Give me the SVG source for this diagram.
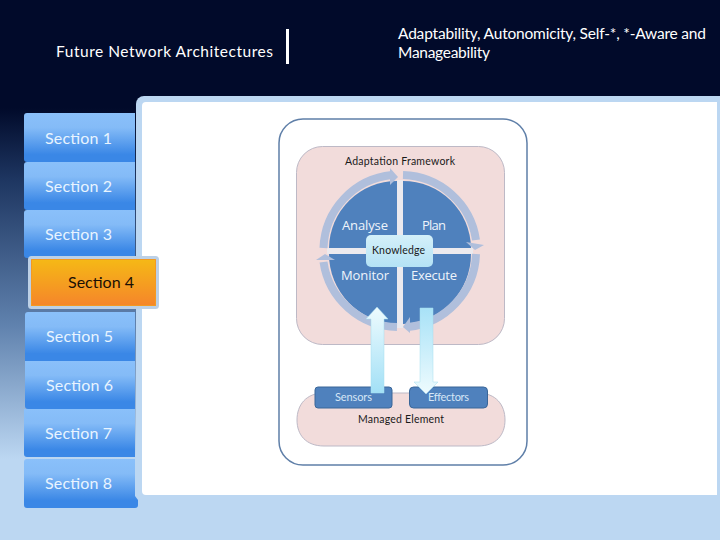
<svg xmlns="http://www.w3.org/2000/svg" width="720" height="540" viewBox="0 0 720 540">
<defs>
<linearGradient id="bg" x1="0" y1="0" x2="0" y2="1"><stop offset="0" stop-color="#010a2a"/><stop offset="0.2" stop-color="#010a2a"/><stop offset="0.33" stop-color="#1d3560"/><stop offset="0.6" stop-color="#5f81ad"/><stop offset="0.85" stop-color="#bcd7f2"/><stop offset="1" stop-color="#bcd7f2"/></linearGradient>
<linearGradient id="tab" x1="0" y1="0" x2="0" y2="1"><stop offset="0" stop-color="#8ac0fa"/><stop offset="0.3" stop-color="#84bbf7"/><stop offset="0.85" stop-color="#3a87e6"/><stop offset="1" stop-color="#3a87e6"/></linearGradient>
<linearGradient id="org" x1="0" y1="0" x2="0" y2="1"><stop offset="0" stop-color="#f5b816"/><stop offset="1" stop-color="#f5862a"/></linearGradient>
<linearGradient id="upA" x1="0" y1="0" x2="0" y2="1"><stop offset="0" stop-color="#eefbfe"/><stop offset="1" stop-color="#a2e0f6"/></linearGradient>
<linearGradient id="dnA" x1="0" y1="0" x2="0" y2="1"><stop offset="0" stop-color="#a8e2f7"/><stop offset="1" stop-color="#eefbfe"/></linearGradient>
<linearGradient id="kn" x1="0" y1="0" x2="0" y2="1"><stop offset="0" stop-color="#d4f0f9"/><stop offset="1" stop-color="#b4e2f5"/></linearGradient>
</defs>
<style>
.hd{font-family:Lato,"Open Sans",sans-serif;font-size:15.5px;fill:#fff}
.sec{font-family:Lato,"Open Sans",sans-serif;font-size:16px;fill:#e8f4ff}
.ph{fill:#f2dcdb;stroke:#bdb9c6;stroke-width:1}
.q{fill:#4f81bd}
.arc{fill:none;stroke:#b0bfdc;stroke-width:8}
.hdv{fill:#b0bfdc}
.w{font-family:"Open Sans","Liberation Sans",sans-serif;font-size:13px;fill:#eef4fb}
.b{font-family:Lato,"Open Sans",sans-serif;font-size:10.500px;fill:#1a1a1a}
.s{font-family:Lato,"Open Sans",sans-serif;font-size:11px;fill:#d6e6f6}
.tab{fill:url(#tab)}
</style>
<rect width="720" height="540" fill="url(#bg)"/>
<g id="header">
<text class="hd" x="56" y="57" textLength="217" lengthAdjust="spacing">Future Network Architectures</text>
<rect x="286" y="29" width="3" height="35" fill="#fff"/>
<text class="hd" x="398" y="39" textLength="308" lengthAdjust="spacing">Adaptability, Autonomicity, Self-*, *-Aware and</text>
<text class="hd" x="398" y="58" textLength="92" lengthAdjust="spacing">Manageability</text>
</g>
<g id="panel">
<path d="M136 104a8 8 0 0 1 8-8H720V540H136Z" fill="#bcd7f2"/>
<path d="M142 106a4 4 0 0 1 4-4H717V495H146a4 4 0 0 1-4-4Z" fill="#fff"/>
<rect x="30" y="305" width="105" height="8" fill="#5a7aa6"/>
</g>
<g id="section-1"><path class="tab" d="M24 116a3 3 0 0 1 3-3H135V162H27a3 3 0 0 1-3-3Z"/><text class="sec" x="45" y="144" textLength="67">Section 1</text></g>
<g id="section-2"><path class="tab" d="M24 165a3 3 0 0 1 3-3H135V210H27a3 3 0 0 1-3-3Z"/><text class="sec" x="45" y="192" textLength="67">Section 2</text></g>
<g id="section-3"><path class="tab" d="M24 213a3 3 0 0 1 3-3H135V258H27a3 3 0 0 1-3-3Z"/><text class="sec" x="45" y="240" textLength="67">Section 3</text></g>
<g id="section-4"><rect x="29.500" y="257.500" width="128" height="50" rx="2" fill="#f39a22" stroke="#bcd0e6" stroke-width="3"/><rect x="32" y="260" width="123" height="45" fill="url(#org)"/><text x="68" y="288" textLength="66" style="font-family:Lato,'Open Sans',sans-serif;font-size:16px;fill:#1a0f05">Section 4</text></g>
<g id="section-5"><path class="tab" d="M25 315a3 3 0 0 1 3-3H135V361H25Z"/><text class="sec" x="46" y="342" textLength="67">Section 5</text></g>
<g id="section-6"><path class="tab" d="M25 361H135V409H28a3 3 0 0 1-3-3Z"/><text class="sec" x="46" y="391" textLength="67">Section 6</text></g>
<g id="section-7"><path class="tab" d="M24 409H135V457H27a3 3 0 0 1-3-3Z"/><text class="sec" x="45" y="439" textLength="67">Section 7</text></g>
<g id="section-8"><path class="tab" d="M24 462a3 3 0 0 1 3-3H135V496L138 500V505a3 3 0 0 1-3 3H27a3 3 0 0 1-3-3Z"/><text class="sec" x="45" y="489" textLength="67">Section 8</text></g>
<g id="frame"><rect x="279" y="119" width="248" height="346" rx="24" fill="#fff" stroke="#5f7fa8" stroke-width="1.500"/></g>
<g id="adaptation-framework">
<rect class="ph" x="296.500" y="146.500" width="208" height="198" rx="26"/>
<text class="b" x="345" y="165" textLength="110" lengthAdjust="spacing">Adaptation Framework</text>
</g>
<g id="managed-element">
<path class="ph" d="M324 393H478C496 393 505 405 505 420S496 446 478 446H324C306 446 297 435 297 420S306 393 324 393Z"/>
<text class="b" x="358" y="423" textLength="86" lengthAdjust="spacing">Managed Element</text>
</g>
<rect x="397" y="180" width="6" height="148" fill="#eceaee"/>
<rect x="327" y="248" width="146" height="6" fill="#eceaee"/>
<g id="analyse"><path class="q" d="M397 248H329A68 68 0 0 1 397 181Z"/><text class="w" x="342" y="230" textLength="46">Analyse</text></g>
<g id="plan"><path class="q" d="M403 248H471A68 68 0 0 0 403 181Z"/><text class="w" x="422" y="230" textLength="24">Plan</text></g>
<g id="monitor"><path class="q" d="M397 254H329A70 70 0 0 0 397 324Z"/><text class="w" x="341" y="280" textLength="48">Monitor</text></g>
<g id="execute"><path class="q" d="M403 254H471A70 70 0 0 1 403 324Z"/><text class="w" x="411" y="280" textLength="46">Execute</text></g>
<g id="knowledge"><rect x="366" y="235" width="67" height="32" rx="5" fill="url(#kn)"/><text class="b" x="372" y="254" textLength="53" lengthAdjust="spacing">Knowledge</text></g>
<g id="sensors"><rect x="315" y="387" width="77" height="21" rx="3" fill="#4f81bd" stroke="#3a6698"/><text class="s" x="335" y="401" textLength="37" lengthAdjust="spacing">Sensors</text></g>
<g id="effectors"><rect x="409.500" y="387" width="78" height="21" rx="4" fill="#4f81bd" stroke="#3a6698"/><text class="s" x="428" y="401" textLength="41" lengthAdjust="spacing">Effectors</text></g>
<g id="connectors">
<path class="arc" d="M323.500 248A76 76 0 0 1 392 175"/><path class="hdv" d="M390 168L398 177L390 185Z"/>
<path class="arc" d="M403 175A76 76 0 0 1 476 240"/><path class="hdv" d="M466 242L484 245L475 250Z"/>
<path class="arc" d="M476 254A76 76 0 0 1 408 327"/><path class="hdv" d="M410 317L403 327L410 333Z"/>
<path class="arc" d="M397 327A76 76 0 0 1 323.500 262"/><path class="hdv" d="M316 260L325 254L335 260Z"/>
<path d="M371 393V319H366L377 307L388 319H384V393Z" fill="url(#upA)" stroke="#a6dcef" stroke-width=".5"/>
<path d="M420 308H433V382H438L426 394L414 382H420Z" fill="url(#dnA)" stroke="#a6dcef" stroke-width=".5"/>
</g>
</svg>
